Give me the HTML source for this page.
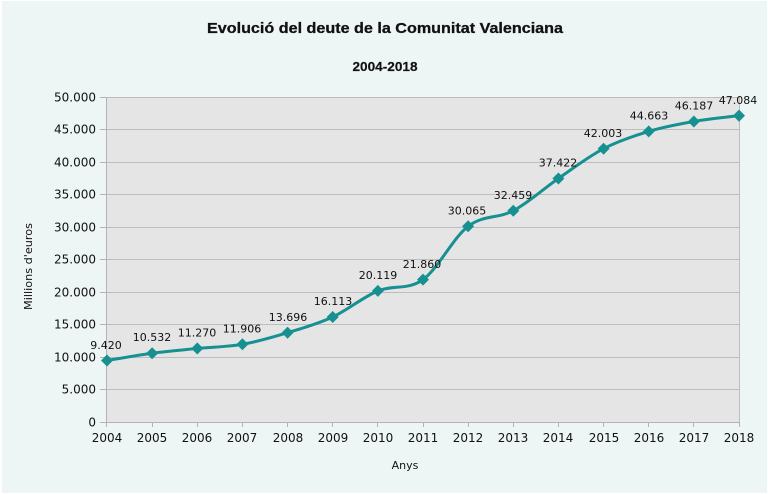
<!DOCTYPE html>
<html>
<head>
<meta charset="utf-8">
<style>
  html, body { margin: 0; padding: 0; background: #ffffff; }
  body { width: 768px; height: 494px; overflow: hidden; }
  svg { display: block; }
  text { font-family: "DejaVu Sans", "Liberation Sans", sans-serif; fill: #111111; }
</style>
</head>
<body>
<svg width="768" height="494" viewBox="0 0 768 494" xmlns="http://www.w3.org/2000/svg">
  <rect x="0" y="0" width="768" height="494" fill="#ffffff"/>
  <rect x="2" y="1" width="765" height="492" fill="#eef6f5"/>

  <!-- Title -->
  <text x="385" y="33" text-anchor="middle" font-weight="bold" font-size="15" textLength="356" lengthAdjust="spacingAndGlyphs" style="font-family:'Liberation Sans',sans-serif" stroke="#111" stroke-width="0.3">Evolució del deute de la Comunitat Valenciana</text>
  <text x="385" y="71" text-anchor="middle" font-weight="bold" font-size="13" textLength="65" lengthAdjust="spacingAndGlyphs" style="font-family:'Liberation Sans',sans-serif" stroke="#111" stroke-width="0.2">2004-2018</text>

  <!-- Plot area -->
  <rect x="107" y="97" width="632" height="325" fill="#e5e5e5"/>

  <!-- Gridlines -->
  <g stroke="#bdbdbd" stroke-width="1">
    <line x1="107" y1="97.5" x2="739" y2="97.5"/>
    <line x1="107" y1="129.5" x2="739" y2="129.5"/>
    <line x1="107" y1="162.5" x2="739" y2="162.5"/>
    <line x1="107" y1="194.5" x2="739" y2="194.5"/>
    <line x1="107" y1="227.5" x2="739" y2="227.5"/>
    <line x1="107" y1="259.5" x2="739" y2="259.5"/>
    <line x1="107" y1="292.5" x2="739" y2="292.5"/>
    <line x1="107" y1="324.5" x2="739" y2="324.5"/>
    <line x1="107" y1="357.5" x2="739" y2="357.5"/>
    <line x1="107" y1="389.5" x2="739" y2="389.5"/>
    <line x1="739.5" y1="97" x2="739.5" y2="422"/>
  </g>

  <!-- Axes -->
  <g stroke="#b3b3b3" stroke-width="1">
    <line x1="106.5" y1="97" x2="106.5" y2="427"/>
    <line x1="100" y1="422.5" x2="739" y2="422.5"/>
    <line x1="100" y1="97.5" x2="107" y2="97.5"/>
    <line x1="100" y1="129.5" x2="107" y2="129.5"/>
    <line x1="100" y1="162.5" x2="107" y2="162.5"/>
    <line x1="100" y1="194.5" x2="107" y2="194.5"/>
    <line x1="100" y1="227.5" x2="107" y2="227.5"/>
    <line x1="100" y1="259.5" x2="107" y2="259.5"/>
    <line x1="100" y1="292.5" x2="107" y2="292.5"/>
    <line x1="100" y1="324.5" x2="107" y2="324.5"/>
    <line x1="100" y1="357.5" x2="107" y2="357.5"/>
    <line x1="100" y1="389.5" x2="107" y2="389.5"/>
    <line x1="152.5" y1="422" x2="152.5" y2="427"/>
    <line x1="197.5" y1="422" x2="197.5" y2="427"/>
    <line x1="242.5" y1="422" x2="242.5" y2="427"/>
    <line x1="287.5" y1="422" x2="287.5" y2="427"/>
    <line x1="332.5" y1="422" x2="332.5" y2="427"/>
    <line x1="377.5" y1="422" x2="377.5" y2="427"/>
    <line x1="423.5" y1="422" x2="423.5" y2="427"/>
    <line x1="468.5" y1="422" x2="468.5" y2="427"/>
    <line x1="513.5" y1="422" x2="513.5" y2="427"/>
    <line x1="558.5" y1="422" x2="558.5" y2="427"/>
    <line x1="603.5" y1="422" x2="603.5" y2="427"/>
    <line x1="648.5" y1="422" x2="648.5" y2="427"/>
    <line x1="693.5" y1="422" x2="693.5" y2="427"/>
    <line x1="739.5" y1="422" x2="739.5" y2="427"/>
  </g>

  <!-- Y tick labels -->
  <g font-size="12" text-anchor="end">
    <text x="96" y="101.5">50.000</text>
    <text x="96" y="133.5">45.000</text>
    <text x="96" y="166.5">40.000</text>
    <text x="96" y="198.5">35.000</text>
    <text x="96" y="231.5">30.000</text>
    <text x="96" y="263.5">25.000</text>
    <text x="96" y="296.5">20.000</text>
    <text x="96" y="328.5">15.000</text>
    <text x="96" y="361.5">10.000</text>
    <text x="96" y="393.5">5.000</text>
    <text x="96" y="426.5">0</text>
  </g>

  <!-- X tick labels -->
  <g font-size="12" text-anchor="middle">
    <text x="107" y="442">2004</text>
    <text x="152" y="442">2005</text>
    <text x="197" y="442">2006</text>
    <text x="242" y="442">2007</text>
    <text x="288" y="442">2008</text>
    <text x="333" y="442">2009</text>
    <text x="378" y="442">2010</text>
    <text x="423" y="442">2011</text>
    <text x="468" y="442">2012</text>
    <text x="513" y="442">2013</text>
    <text x="558" y="442">2014</text>
    <text x="604" y="442">2015</text>
    <text x="649" y="442">2016</text>
    <text x="694" y="442">2017</text>
    <text x="739" y="442">2018</text>
  </g>

  <!-- Axis titles -->
  <text x="405" y="469" text-anchor="middle" font-size="11">Anys</text>
  <text transform="translate(32,266.5) rotate(-90)" text-anchor="middle" font-size="10.5" textLength="87" lengthAdjust="spacingAndGlyphs">Millions d'euros</text>

  <!-- Series line -->
  <path fill="none" stroke="#169090" stroke-width="3" stroke-linejoin="round" stroke-linecap="round"
    d="M107,360.47 C114.52,359.27 137.09,355.25 152.14,353.24
       C167.19,351.24 182.24,349.93 197.29,348.44
       C212.34,346.95 227.38,346.94 242.43,344.31
       C257.48,341.68 272.52,337.24 287.57,332.68
       C302.62,328.12 317.66,323.93 332.71,316.97
       C347.76,310.01 362.81,297.16 377.86,290.93
       C392.91,284.70 407.95,290.39 423.0,279.61
       C438.05,268.84 453.09,237.76 468.14,226.28
       C483.19,214.80 498.24,218.69 513.29,210.72
       C528.34,202.75 543.38,188.80 558.43,178.46
       C573.48,168.12 588.52,156.53 603.57,148.68
       C618.62,140.84 633.66,135.92 648.71,131.39
       C663.76,126.86 678.81,124.10 693.86,121.48
       C708.91,118.86 731.48,116.62 739.0,115.65"/>

  <!-- Markers (diamonds) -->
  <g fill="#169090">
    <path d="M107,354.5 L113,360.47 L107,366.5 L101,360.47 Z"/>
    <path d="M152.14,347.2 L158.1,353.24 L152.14,359.3 L146.1,353.24 Z"/>
    <path d="M197.29,342.4 L203.3,348.44 L197.29,354.5 L191.3,348.44 Z"/>
    <path d="M242.43,338.3 L248.4,344.31 L242.43,350.3 L236.4,344.31 Z"/>
    <path d="M287.57,326.7 L293.6,332.68 L287.57,338.7 L281.6,332.68 Z"/>
    <path d="M332.71,311 L338.7,316.97 L332.71,323 L326.7,316.97 Z"/>
    <path d="M377.86,284.9 L383.9,290.93 L377.86,296.9 L371.9,290.93 Z"/>
    <path d="M423,273.6 L429,279.61 L423,285.6 L417,279.61 Z"/>
    <path d="M468.14,220.3 L474.1,226.28 L468.14,232.3 L462.1,226.28 Z"/>
    <path d="M513.29,204.7 L519.3,210.72 L513.29,216.7 L507.3,210.72 Z"/>
    <path d="M558.43,172.5 L564.4,178.46 L558.43,184.5 L552.4,178.46 Z"/>
    <path d="M603.57,142.7 L609.6,148.68 L603.57,154.7 L597.6,148.68 Z"/>
    <path d="M648.71,125.4 L654.7,131.39 L648.71,137.4 L642.7,131.39 Z"/>
    <path d="M693.86,115.5 L699.9,121.48 L693.86,127.5 L687.9,121.48 Z"/>
    <path d="M739,109.6 L745,115.65 L739,121.7 L733,115.65 Z"/>
  </g>

  <!-- Data labels -->
  <g font-size="11" text-anchor="middle">
    <text x="106" y="349">9.420</text>
    <text x="152" y="341">10.532</text>
    <text x="197" y="336.5">11.270</text>
    <text x="242" y="332.5">11.906</text>
    <text x="288" y="321">13.696</text>
    <text x="333" y="305">16.113</text>
    <text x="378" y="279">20.119</text>
    <text x="422" y="268">21.860</text>
    <text x="467" y="214.5">30.065</text>
    <text x="513" y="199">32.459</text>
    <text x="558" y="166.5">37.422</text>
    <text x="603" y="137">42.003</text>
    <text x="649" y="119.5">44.663</text>
    <text x="694" y="109.5">46.187</text>
    <text x="738" y="104">47.084</text>
  </g>
</svg>
</body>
</html>
